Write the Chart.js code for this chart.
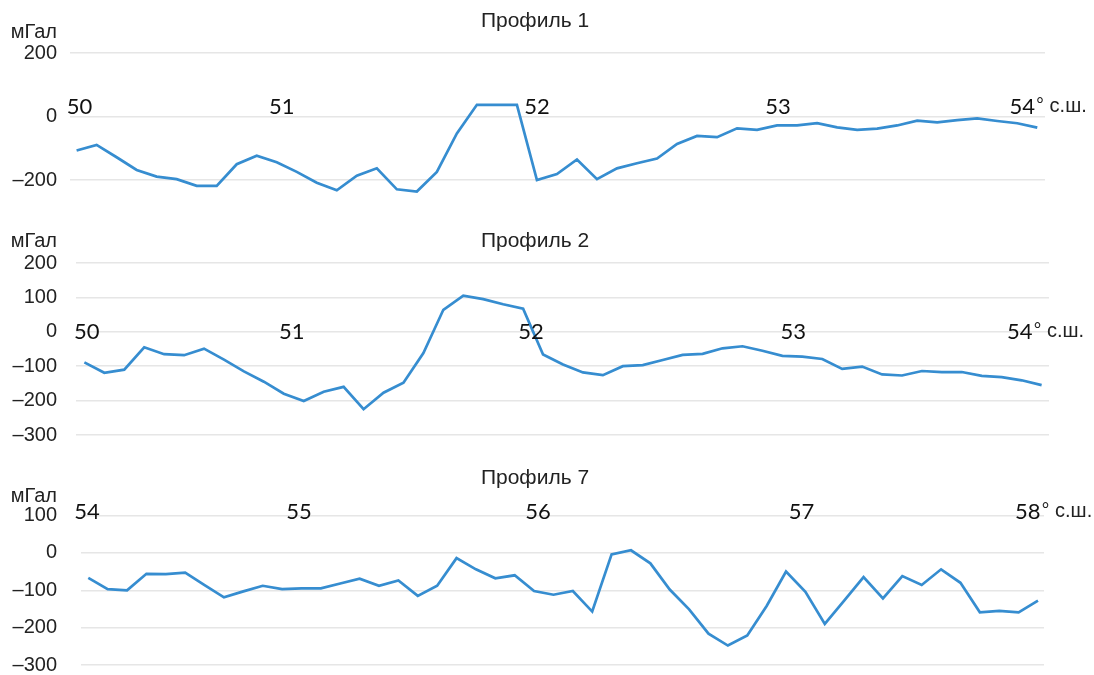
<!DOCTYPE html>
<html>
<head>
<meta charset="utf-8">
<script src="https://cdn.jsdelivr.net/npm/chart.js@4.4.1/dist/chart.umd.min.js"></script>
<style>
  html, body { margin: 0; padding: 0; background: #fff; overflow: hidden; width: 1094px; height: 675px; }
  canvas { position: absolute; left: 0; }
</style>
</head>
<body>
<canvas id="p1" width="1094" height="221" style="top:0px"></canvas>
<canvas id="p2" width="1094" height="246" style="top:220px"></canvas>
<canvas id="p7" width="1094" height="246" style="top:455px"></canvas>
<script>
// Gravity anomaly profiles, mGal, sampled at equal steps along each profile
const profile1 = [-107, -89, -128, -168, -189, -197, -218, -218, -150, -123, -144, -174, -208, -232, -186, -163, -229, -236, -174, -53,
  37, 37, 37, -200, -181, -135, -197, -163, -147, -132, -86, -61, -65, -37, -42, -28, -28, -21, -34, -42,
  -38, -28, -13, -18, -11, -6, -14, -21, -35];
const profile2 = [-89, -119, -110, -45, -65, -68, -49, -81, -115, -145, -180, -201, -174, -160, -225, -177, -148, -62, 64, 105,
  95, 80, 67, -66, -95, -118, -126, -100, -97, -82, -67, -64, -48, -42, -55, -70, -72, -79, -108, -101,
  -124, -127, -114, -117, -117, -128, -132, -141, -155];
const profile7 = [-67, -97, -100, -56, -57, -53, -86, -119, -103, -88, -97, -95, -95, -82, -69, -88, -74, -115, -88, -14,
  -44, -68, -60, -102, -112, -102, -157, -4, 7, -28, -98, -151, -216, -248, -221, -142, -50, -104, -190, -128,
  -65, -122, -62, -86, -44, -80, -159, -155, -159, -128];

// Latitude marks (degrees N) and where they fall along each profile (sample index)
const latLabels1 = ['50', '51', '52', '53', '54'];
const latIndex1 = [0.14, 10.25, 23.0, 35.05, 47.25];
const latLabels2 = ['50', '51', '52', '53', '54'];
const latIndex2 = [0.12, 10.4, 22.4, 35.55, 46.9];
const latLabels7 = ['54', '55', '56', '57', '58'];
const latIndex7 = [-0.07, 10.87, 23.2, 36.8, 48.47];

// Value-axis ticks
const yTicks1 = [200, 0, -200];
const yTicks2 = [200, 100, 0, -100, -200, -300];
const yTicks7 = [100, 0, -100, -200, -300];

const titles = ['Профиль 1', 'Профиль 2', 'Профиль 7'];
const unitLabel = 'мГал';
const latSuffix = '° с.ш.';

const LINE = '#368dd0';
const TEXT = '#222222';
const GRID = '#e6e6e6';
const ARIAL = '"Liberation Sans", Arial, sans-serif';
const TICK_LABEL_RIGHT = 57;

function labelPlugin(cfg) {
  return {
    id: 'profileLabels',
    afterDraw(chart) {
      const { ctx, scales } = chart;
      ctx.save();
      ctx.textBaseline = 'middle';
      ctx.fillStyle = TEXT;
      ctx.font = '21px ' + ARIAL;
      ctx.textAlign = 'center';
      ctx.fillText(cfg.title, 535, cfg.titleY);
      ctx.font = '20px ' + ARIAL;
      ctx.textAlign = 'right';
      ctx.fillText(unitLabel, TICK_LABEL_RIGHT, cfg.unitY);

      const yPix = scales.y.getPixelForValue(cfg.latLevel);
      cfg.positions.forEach((p, i) => {
        const px = scales.x.getPixelForValue(p);
        ctx.font = '22px Lato, "Open Sans", sans-serif';
        ctx.fillStyle = '#111111';
        ctx.textAlign = 'center';
        ctx.fillText(cfg.labels[i], px, yPix);
        if (i === cfg.labels.length - 1) {
          const w = ctx.measureText(cfg.labels[i]).width;
          ctx.font = '20px ' + ARIAL;
          ctx.fillStyle = TEXT;
          ctx.textAlign = 'left';
          ctx.fillText(latSuffix, px + w / 2 + 1, yPix);
        }
      });
      ctx.restore();
    }
  };
}

function makeProfile(id, values, opt) {
  const points = values.map((v, i) => ({ x: i, y: v }));
  const tickPad = opt.left - TICK_LABEL_RIGHT;
  return new Chart(document.getElementById(id), {
    type: 'line',
    data: {
      datasets: [{
        data: points,
        borderColor: LINE,
        borderWidth: 2.7,
        pointRadius: 0,
        tension: 0,
        fill: false,
        clip: false
      }]
    },
    options: {
      responsive: false,
      animation: false,
      events: [],
      // bottom padding matches the value axis' own label allowance (half line + tick padding)
      layout: { padding: { top: opt.padTop, bottom: 12 + tickPad, left: 0, right: 1094 - opt.right } },
      plugins: { legend: { display: false }, tooltip: { enabled: false }, title: { display: false } },
      scales: {
        x: { type: 'linear', display: false, min: opt.xMin, max: opt.xMax },
        y: {
          min: opt.yMin,
          max: opt.yMax,
          border: { display: false },
          grid: { color: GRID, lineWidth: 1.5, drawTicks: false },
          afterFit(scale) { scale.width = opt.left; },
          afterBuildTicks(scale) { scale.ticks = opt.ticks.map(v => ({ value: v })); },
          ticks: {
            padding: tickPad,
            color: TEXT,
            font: { family: ARIAL, size: 20 },
            callback: v => (v < 0 ? '–' + Math.abs(v) : String(v))
          }
        }
      }
    },
    plugins: [labelPlugin(opt.text)]
  });
}

makeProfile('p1', profile1, {
  left: 70, right: 1045, padTop: 53,
  xMin: -0.33, xMax: 48.385, yMin: -250, yMax: 200, ticks: yTicks1,
  text: { title: titles[0], titleY: 21, unitY: 32, latLevel: 31, positions: latIndex1, labels: latLabels1 }
});

makeProfile('p2', profile2, {
  left: 76, right: 1049, padTop: 43,
  xMin: -0.42, xMax: 48.37, yMin: -300, yMax: 200, ticks: yTicks2,
  text: { title: titles[1], titleY: 21, unitY: 21, latLevel: 0, positions: latIndex2, labels: latLabels2 }
});

makeProfile('p7', profile7, {
  left: 81, right: 1044, padTop: 60.5,
  xMin: -0.376, xMax: 49.31, yMin: -300, yMax: 100, ticks: yTicks7,
  text: { title: titles[2], titleY: 23, unitY: 41, latLevel: 110, positions: latIndex7, labels: latLabels7 }
});
</script>
</body>
</html>
